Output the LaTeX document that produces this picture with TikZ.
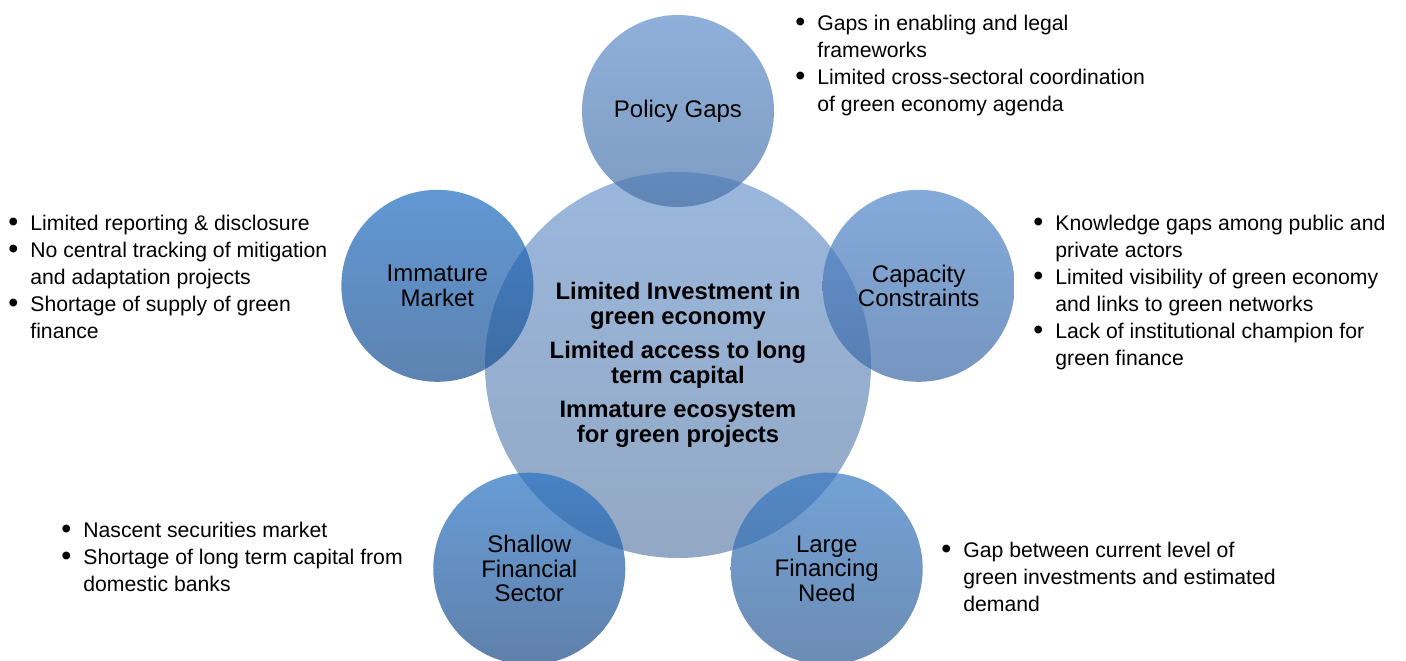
\documentclass[tikz,border=0pt]{standalone}
\usepackage{fontspec}
\setmainfont{Liberation Sans}
\usetikzlibrary{calc}

% fill colours: the hub is opaque, the spokes are see-through
\definecolor{hubtop}{RGB}{154,183,221}
\definecolor{hubbot}{RGB}{147,168,196}
\definecolor{policytop}{RGB}{95,142,202}
\definecolor{policybot}{RGB}{72,114,169}
\definecolor{capacitytop}{RGB}{80,134,202}
\definecolor{capacitybot}{RGB}{59,105,165}
\definecolor{largetop}{RGB}{56,122,196}
\definecolor{largebot}{RGB}{45,91,148}
\definecolor{shallowtop}{RGB}{39,114,196}
\definecolor{shallowbot}{RGB}{28,74,134}
\definecolor{immaturetop}{RGB}{30,108,194}
\definecolor{immaturebot}{RGB}{24,78,142}

% a slightly larger bullet than the font's own
\newcommand{\dotitem}{\raisebox{-0.9pt}{\scalebox{1.35}{\textbullet}} &}

\tikzset{
    hub/.style={
        circle, minimum size=193pt, inner sep=0pt,
        top color=hubtop, bottom color=hubbot,
        align=center, font=\bfseries\fontsize{11.9}{12.5}\selectfont
    },
    spoke/.style={
        circle, minimum size=96pt, inner sep=0pt,
        fill opacity=0.7, text opacity=1,
        align=center, font=\fontsize{12}{12.2}\selectfont
    },
    notes/.style={
        anchor=base west, inner sep=0pt,
        font=\fontsize{10.6}{13.5}\selectfont
    }
}

\begin{document}
\begin{tikzpicture}[x=0.5pt,y=0.5pt]
\useasboundingbox (-678,-296) rectangle (728,364);
\node[hub] (hub) at (0,-1) {Limited Investment in\\green economy\\[4.5pt]
  Limited access to long\\term capital\\[4.5pt]
  Immature ecosystem\\for green projects};
\foreach \nm/\ang/\tc/\bc/\txt in {
    policy/90/policytop/policybot/{Policy Gaps},
    capacity/18/capacitytop/capacitybot/{Capacity\\Constraints},
    large/-54/largetop/largebot/{Large\\Financing\\Need},
    shallow/-126/shallowtop/shallowbot/{Shallow\\Financial\\Sector},
    immature/162/immaturetop/immaturebot/{Immature\\Market}}
  \node[spoke, top color=\tc, bottom color=\bc] (\nm) at (\ang:253) {\txt};

% bullet notes next to each spoke
\node[notes] (policynotes) at (117,334) {\begin{tabular}[t]{@{}p{11pt}@{}l@{}}
  \dotitem Gaps in enabling and legal\\
  & frameworks\\
  \dotitem Limited cross-sectoral coordination\\
  & of green economy agenda
\end{tabular}};
\node[notes] (capacitynotes) at (355,134) {\begin{tabular}[t]{@{}p{11pt}@{}l@{}}
  \dotitem Knowledge gaps among public and\\
  & private actors\\
  \dotitem Limited visibility of green economy\\
  & and links to green networks\\
  \dotitem Lack of institutional champion for\\
  & green finance
\end{tabular}};
\node[notes] (immaturenotes) at (-670,134) {\begin{tabular}[t]{@{}p{11pt}@{}l@{}}
  \dotitem Limited reporting \& disclosure\\
  \dotitem No central tracking of mitigation\\
  & and adaptation projects\\
  \dotitem Shortage of supply of green\\
  & finance
\end{tabular}};
\node[notes] (shallownotes) at (-617,-173) {\begin{tabular}[t]{@{}p{11pt}@{}l@{}}
  \dotitem Nascent securities market\\
  \dotitem Shortage of long term capital from\\
  & domestic banks
\end{tabular}};
\node[notes] (largenotes) at (263,-193) {\begin{tabular}[t]{@{}p{11pt}@{}l@{}}
  \dotitem Gap between current level of\\
  & green investments and estimated\\
  & demand
\end{tabular}};
\end{tikzpicture}
\end{document}
